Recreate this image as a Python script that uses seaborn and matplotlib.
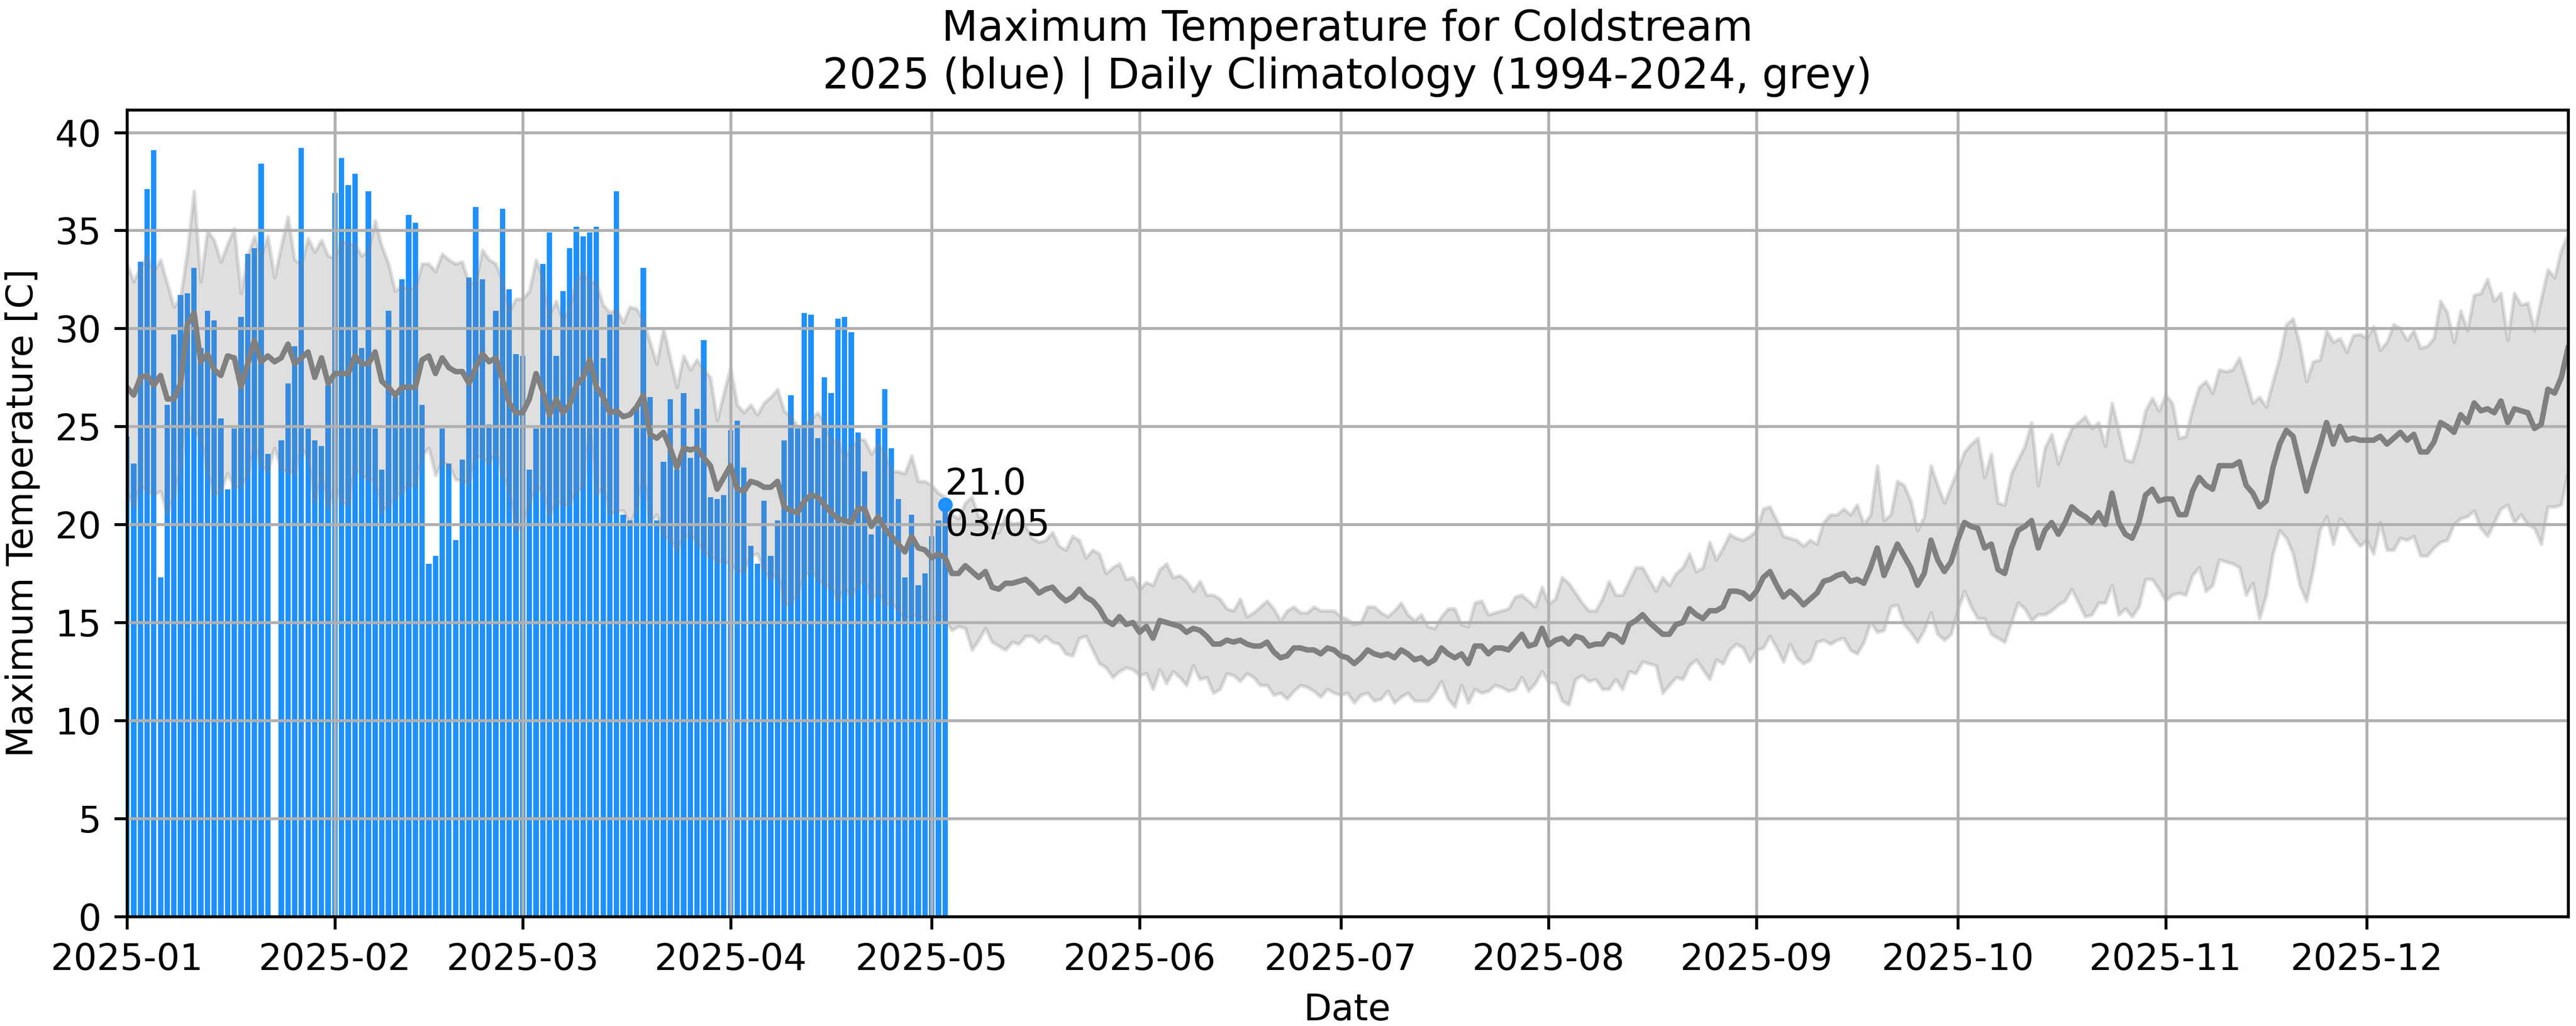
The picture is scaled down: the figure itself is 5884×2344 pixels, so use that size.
import numpy as np
import pandas as pd
import matplotlib
matplotlib.use("Agg")
import matplotlib.pyplot as plt
import matplotlib.dates as mdates
import seaborn as sns

# ---------------- data ----------------
year_start = "2025-01-01"

# 2025 observed daily maximum temperature (Jan 1 .. May 3), NaN = missing
obs_2025 = [
    24.5, 23.1, 33.4, 37.1, 39.1, 17.3, 26.1, 29.7, 31.7, 31.8, 33.1, 29.0, 30.9, 30.4, 25.4, 21.8,
    24.9, 30.6, 33.8, 34.1, 38.4, 23.6, np.nan, 24.3, 27.2, 29.1, 39.2, 24.9, 24.3, 24.0, 27.1, 36.9,
    38.7, 37.3, 37.9, 29.0, 37.0, 24.9, 22.8, 30.9, 26.5, 32.5, 35.8, 35.4, 26.1, 18.0, 18.4, 24.9,
    23.1, 19.2, 23.3, 32.6, 36.2, 32.5, 25.1, 30.9, 36.1, 32.0, 28.7, 28.6, 22.8, 24.9, 33.3,
    34.9, 28.6, 31.9, 34.1, 35.2, 34.7, 34.9, 35.2, 28.5, 30.7, 37.0, 20.5, 20.2, 26.0, 33.1, 26.5,
    20.2, 23.2, 26.4, 22.8, 26.7, 23.4, 25.9, 29.4, 21.4, 21.3, 21.5, 24.8, 25.3, 22.9,
    18.9, 18.0, 21.2, 18.4, 20.2, 24.3, 26.6, 24.9, 30.8, 30.7, 24.4, 27.5, 26.7, 30.5, 30.6, 29.8,
    24.7, 22.7, 19.5, 24.9, 26.9, 23.9, 21.3, 17.3, 20.5, 16.9, 17.5, 19.4, 20.2, 21.0,
]

# Daily climatology 1994-2024: mean, lower and upper band (365 days)
clim_mean = [
    27.0, 26.6, 27.5, 27.6, 27.1, 27.6, 26.4, 26.4, 27.2, 30.2, 30.8, 28.3, 28.7, 27.9, 27.6, 28.6,
    28.5, 27.0, 28.2, 29.4, 28.3, 28.6, 28.3, 28.5, 29.2, 28.2, 28.5, 28.8, 27.5, 28.5, 27.2, 27.7,
    27.7, 27.7, 28.6, 28.2, 28.2, 28.8, 27.3, 27.0, 26.6, 27.0, 27.0, 27.0, 28.4, 28.6, 27.7, 28.5,
    28.0, 27.8, 27.8, 27.2, 28.0, 28.7, 28.3, 28.5, 27.4, 26.2, 25.7, 25.7, 26.4, 27.7, 26.8,
    25.6, 26.4, 25.7, 26.1, 27.1, 27.5, 28.4, 27.0, 26.5, 25.7, 25.8, 25.5, 25.6, 26.0, 26.6, 24.6,
    24.4, 24.7, 23.9, 22.9, 23.9, 23.8, 23.9, 23.4, 23.0, 21.8, 22.4, 23.0, 21.8, 21.7,
    22.2, 22.1, 21.9, 21.9, 22.2, 20.9, 20.7, 20.6, 21.2, 21.5, 21.4, 21.0, 20.6, 20.3, 20.2, 20.1,
    20.8, 20.8, 19.9, 20.4, 19.8, 19.4, 19.0, 18.6, 19.4, 18.8, 18.7, 18.3, 18.5, 18.3,
    17.5, 17.5, 17.9, 17.6, 17.3, 17.6, 16.8, 16.7, 17.0, 17.0, 17.1, 17.2, 16.9, 16.5, 16.7, 16.8,
    16.4, 16.1, 16.3, 16.7, 16.3, 16.1, 15.7, 15.1, 14.9, 15.3, 14.9, 15.0, 14.5, 14.8,
    14.2, 15.1, 15.0, 14.9, 14.8, 14.5, 14.7, 14.6, 14.3, 13.9, 13.9, 14.1, 14.0, 14.1, 13.9, 13.8,
    13.8, 14.0, 13.5, 13.2, 13.3, 13.7, 13.7, 13.6, 13.6, 13.4, 13.7, 13.6, 13.3, 13.2,
    12.9, 13.2, 13.6, 13.4, 13.3, 13.4, 13.2, 13.6, 13.4, 13.1, 13.2, 12.9, 13.1, 13.7, 13.4, 13.2,
    13.4, 12.9, 13.8, 13.8, 13.4, 13.7, 13.7, 13.6, 14.0, 14.4, 13.8, 13.9, 14.7, 13.85,
    14.1, 14.2, 13.9, 14.3, 14.2, 13.8, 13.9, 13.9, 14.4, 14.3, 14.0, 14.9, 15.1, 15.4, 15.0, 14.7,
    14.4, 14.4, 14.9, 15.0, 15.7, 15.4, 15.2, 15.6, 15.6, 15.8, 16.6, 16.6, 16.5, 16.2,
    16.6, 17.3, 17.6, 16.9, 16.3, 16.6, 16.3, 15.9, 16.2, 16.5, 17.1, 17.2, 17.4, 17.5, 17.1, 17.2,
    17.0, 17.8, 18.8, 17.4, 18.2, 19.0, 18.4, 17.8, 16.9, 17.5, 19.2, 18.2, 17.6, 18.1,
    19.2, 20.1, 19.9, 19.8, 18.8, 19.0, 17.7, 17.5, 18.8, 19.7, 19.9, 20.2, 18.8, 19.7, 20.1, 19.5,
    20.1, 20.9, 20.6, 20.4, 20.1, 20.6, 20.0, 21.6, 20.1, 19.5, 19.3, 20.1, 21.5, 21.8,
    21.2, 21.3, 21.3, 20.5, 20.5, 21.7, 22.4, 22.0, 21.8, 23.0, 23.0, 23.0, 23.2, 22.0, 21.6, 20.9,
    21.2, 22.9, 24.1, 24.8, 24.5, 23.1, 21.7, 22.9, 24.0, 25.2, 24.1, 25.0, 24.3, 24.4,
    24.3, 24.3, 24.3, 24.5, 24.1, 24.4, 24.7, 24.3, 24.6, 23.7, 23.7, 24.2, 25.2, 25.0, 24.7, 25.6,
    25.2, 26.2, 25.8, 25.9, 25.7, 26.3, 25.2, 25.9, 25.8, 25.7, 24.9, 25.1, 26.9, 26.7, 27.5, 29.0,
]

clim_upper = [
    33.3, 32.4, 33.1, 33.7, 32.9, 33.5, 32.3, 31.1, 31.6, 33.9, 37.0, 32.4, 35.0, 34.5, 33.4, 34.3,
    35.1, 31.8, 33.7, 34.7, 33.7, 34.7, 32.6, 34.2, 35.7, 33.5, 33.3, 34.6, 33.9, 34.5, 33.7, 33.6,
    34.5, 34.3, 34.3, 33.7, 34.0, 35.5, 34.2, 33.3, 31.9, 32.2, 32.0, 32.1, 33.3, 33.3, 32.9, 33.8,
    33.5, 33.3, 33.4, 32.3, 32.4, 34.0, 33.5, 33.3, 32.4, 30.9, 31.5, 31.5, 31.9, 33.5, 32.6,
    30.7, 31.4, 30.4, 31.1, 32.4, 32.9, 32.4, 32.3, 31.2, 30.8, 31.0, 30.3, 31.1, 31.0, 30.4, 29.3,
    28.2, 30.0, 28.5, 27.0, 28.6, 27.9, 28.4, 27.9, 27.5, 25.3, 26.7, 28.0, 26.1, 25.7,
    26.1, 25.6, 26.2, 26.5, 26.9, 25.8, 25.5, 25.0, 25.0, 25.4, 25.7, 25.2, 24.3, 24.3, 23.4, 23.9,
    24.4, 24.3, 23.6, 24.1, 23.7, 22.7, 22.7, 22.6, 23.5, 22.2, 22.2, 22.0, 21.6, 21.4,
    20.5, 20.3, 21.1, 21.4, 20.4, 20.3, 19.6, 19.6, 20.4, 20.0, 20.1, 19.9, 19.3, 19.1, 19.2, 19.6,
    18.9, 18.7, 19.4, 19.2, 18.3, 18.7, 18.5, 17.5, 17.8, 18.0, 17.2, 17.3, 16.7, 17.05,
    16.9, 17.7, 18.0, 17.3, 17.4, 17.1, 16.6, 17.1, 16.4, 16.4, 16.2, 15.7, 15.6, 16.2, 15.3, 15.5,
    15.8, 16.1, 15.7, 15.1, 15.6, 15.8, 15.5, 15.5, 15.8, 15.6, 15.6, 15.6, 15.3, 15.15,
    14.9, 15.0, 15.8, 15.8, 15.5, 15.3, 15.6, 16.0, 15.4, 15.1, 15.4, 14.8, 14.7, 15.3, 15.7, 15.7,
    14.9, 14.8, 16.0, 16.1, 15.4, 15.5, 15.6, 15.7, 16.3, 16.4, 16.1, 15.8, 16.8, 15.95,
    16.2, 17.3, 17.0, 16.5, 16.0, 15.6, 15.6, 16.2, 17.1, 16.4, 16.4, 17.1, 17.8, 17.8, 17.2, 16.6,
    17.3, 16.9, 17.5, 17.8, 18.5, 17.6, 17.8, 19.1, 18.2, 18.8, 19.5, 19.3, 19.2, 19.4,
    19.7, 20.8, 20.9, 20.2, 19.4, 19.3, 19.2, 18.9, 19.2, 19.0, 20.1, 20.5, 20.5, 20.8, 20.5, 21.0,
    20.0, 20.5, 23.0, 20.2, 20.5, 22.2, 22.0, 21.2, 19.7, 20.4, 23.0, 22.0, 21.1, 21.95,
    22.8, 23.7, 24.1, 24.4, 22.4, 23.6, 21.1, 21.0, 22.6, 23.3, 24.0, 25.2, 22.0, 23.9, 24.6, 23.1,
    24.1, 24.9, 25.2, 25.5, 24.9, 25.2, 24.0, 26.2, 24.8, 23.3, 23.2, 24.3, 25.8, 26.45,
    25.8, 26.6, 26.2, 24.4, 24.5, 25.9, 27.0, 27.3, 26.7, 27.9, 27.8, 27.9, 28.5, 27.4, 26.2, 26.5,
    26.0, 27.3, 28.5, 30.2, 30.5, 29.2, 27.3, 28.3, 28.4, 29.9, 29.3, 29.5, 28.8, 29.65,
    29.7, 29.5, 30.1, 28.9, 29.3, 30.2, 30.0, 29.4, 29.9, 29.0, 29.1, 29.5, 31.4, 30.8, 29.3, 30.9,
    29.9, 31.7, 31.8, 32.5, 31.4, 31.8, 29.4, 31.8, 31.2, 31.3, 29.9, 31.5, 33.0, 32.6, 34.0, 34.8,
]

clim_lower = [
    21.7, 20.9, 22.0, 21.7, 21.5, 21.7, 20.5, 21.5, 22.8, 25.7, 24.8, 24.3, 22.6, 21.5, 21.7, 22.6,
    21.9, 21.9, 22.5, 24.0, 23.0, 22.7, 23.9, 22.8, 22.7, 22.6, 23.9, 23.4, 21.1, 22.5, 20.8, 22.0,
    21.1, 21.0, 22.9, 22.5, 22.3, 22.2, 20.6, 21.0, 21.3, 21.7, 22.0, 22.0, 23.5, 23.9, 22.5, 23.2,
    23.0, 22.3, 22.2, 22.1, 23.5, 23.4, 23.1, 23.7, 22.5, 21.7, 19.7, 19.9, 21.0, 21.9, 21.7,
    20.4, 21.2, 21.0, 21.0, 21.7, 21.9, 24.9, 21.5, 21.9, 20.5, 20.7, 20.7, 20.0, 20.8, 22.5, 20.1,
    20.5, 19.4, 19.2, 18.7, 19.3, 19.5, 19.1, 18.6, 18.4, 18.1, 18.1, 18.0, 17.6, 17.6,
    18.4, 18.5, 17.6, 17.2, 17.5, 15.9, 16.0, 16.4, 17.4, 17.6, 17.2, 16.9, 16.8, 16.1, 16.8, 16.3,
    16.9, 17.2, 16.1, 16.6, 15.9, 16.0, 15.6, 15.1, 15.4, 15.3, 15.2, 15.0, 15.4, 15.1,
    14.6, 14.8, 14.7, 13.6, 14.1, 14.7, 14.0, 13.8, 13.6, 14.0, 13.9, 14.3, 14.3, 14.0, 14.3, 14.0,
    13.9, 13.4, 13.3, 14.2, 14.3, 13.6, 12.9, 12.7, 12.2, 12.5, 12.7, 12.6, 12.3, 12.4,
    11.6, 12.6, 11.9, 12.5, 12.2, 11.8, 12.8, 12.1, 12.2, 11.4, 11.6, 12.4, 12.3, 12.0, 12.4, 12.2,
    11.8, 11.8, 11.3, 11.4, 11.1, 11.5, 11.8, 11.7, 11.5, 11.2, 11.6, 11.4, 11.3, 11.4,
    10.9, 11.3, 11.4, 11.0, 11.1, 11.5, 10.9, 11.2, 11.4, 11.0, 11.0, 11.0, 11.4, 12.0, 11.1, 10.7,
    11.8, 10.9, 11.6, 11.4, 11.5, 11.8, 11.7, 11.5, 11.6, 12.2, 11.5, 11.9, 12.5, 11.95,
    11.9, 11.0, 10.8, 12.1, 12.3, 12.0, 12.1, 11.6, 11.6, 12.1, 11.6, 12.5, 12.4, 13.0, 12.9, 12.8,
    11.4, 11.8, 12.2, 12.1, 12.8, 13.1, 12.6, 12.1, 13.1, 12.9, 13.6, 13.9, 13.7, 13.0,
    13.6, 13.7, 14.3, 13.7, 13.0, 13.9, 13.2, 12.9, 13.1, 14.0, 14.1, 13.9, 14.1, 14.2, 13.6, 13.4,
    14.0, 15.0, 14.5, 14.6, 15.8, 15.9, 14.9, 14.5, 14.0, 14.6, 15.5, 14.4, 14.1, 14.4,
    15.6, 16.6, 15.8, 15.2, 15.2, 14.4, 14.2, 14.0, 15.0, 16.0, 15.7, 15.1, 15.4, 15.4, 15.6, 15.9,
    16.1, 16.7, 16.0, 15.3, 15.4, 16.0, 16.0, 16.9, 15.4, 15.7, 15.3, 15.8, 17.2, 17.2,
    16.7, 16.1, 16.4, 16.5, 16.4, 17.4, 17.8, 16.6, 16.9, 18.2, 18.1, 18.0, 17.8, 16.4, 17.0, 15.2,
    16.4, 18.5, 19.7, 19.3, 18.5, 16.9, 16.1, 17.7, 19.7, 20.4, 19.0, 20.3, 19.9, 19.35,
    18.9, 19.2, 18.5, 20.1, 18.7, 18.7, 19.3, 19.2, 19.4, 18.4, 18.4, 18.8, 19.1, 19.2, 20.0, 20.3,
    20.4, 20.7, 19.8, 19.4, 20.1, 20.8, 21.0, 20.1, 20.5, 20.0, 19.8, 19.0, 20.9, 20.9, 21.0, 22.7,
]

title_text = "Maximum Temperature for Coldstream\n2025 (blue) | Daily Climatology (1994-2024, grey)"
x_label = "Date"
y_label = "Maximum Temperature [C]"

# ---------------- figure ----------------
DPI = 600
plt.rcParams["font.family"] = ["DejaVu Sans"]
plt.rcParams["font.size"] = 10

clim_dates = pd.date_range(year_start, periods=len(clim_mean), freq="D")
obs_dates = pd.date_range(year_start, periods=len(obs_2025), freq="D")
clim_df = pd.DataFrame({"date": clim_dates, "mean": clim_mean,
                        "lower": clim_lower, "upper": clim_upper})
obs_df = pd.DataFrame({"date": obs_dates, "tmax": obs_2025})

fig = plt.figure(figsize=(5884 / DPI, 2344 / DPI), dpi=DPI)
ax = fig.add_axes([0.0493, 0.1067, 0.9969 - 0.0493, 0.8929 - 0.1067])

ax.bar(obs_df["date"], obs_df["tmax"], width=0.8, color="dodgerblue", zorder=1)
ax.fill_between(clim_df["date"], clim_df["lower"], clim_df["upper"],
                color="grey", alpha=0.25, zorder=1)
sns.lineplot(data=clim_df, x="date", y="mean", color="grey", linewidth=1.5,
             ax=ax, zorder=2)

# last observation marker and label
last = obs_df.dropna().iloc[-1]
ax.scatter([last["date"]], [last["tmax"]], s=9, color="dodgerblue", zorder=4)
ax.text(last["date"], last["tmax"],
        f"{last['tmax']:.1f}\n{last['date']:%d/%m}",
        ha="left", va="center", fontsize=10, zorder=5)

ax.set_xlim(clim_dates[0], clim_dates[-1])
ax.set_ylim(0, 41.15)
ax.xaxis.set_major_locator(mdates.MonthLocator())
ax.xaxis.set_major_formatter(mdates.DateFormatter("%Y-%m"))
ax.grid(True, color="#b0b0b0", linewidth=0.8)
ax.set_title(title_text, fontsize=11.5)
ax.set_xlabel(x_label)
ax.set_ylabel(y_label)

fig.savefig("out.png", dpi=DPI)
